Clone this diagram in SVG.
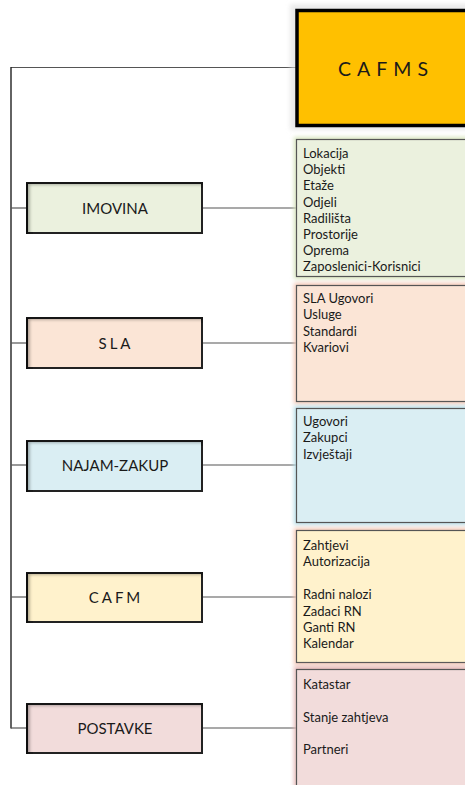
<svg xmlns="http://www.w3.org/2000/svg" width="465" height="785" viewBox="0 0 465 785">
  <style>
    .node { stroke: #222; stroke-width: 2; }
    .nlabel { font-family: Lato, "Open Sans", "Liberation Sans", sans-serif; font-size: 15px; fill: #1a1a1a; text-anchor: middle; }
    .spaced { letter-spacing: 3px; }
    .detail { stroke: #555; stroke-width: 1.2; }
    .dtext { font-family: Lato, "Open Sans", "Liberation Sans", sans-serif; font-size: 13px; fill: #1a1a1a; }
    .conn { stroke: #555; stroke-width: 1.2; fill: none; }
  </style>
  <defs>
    <filter id="inner" x="-5%" y="-10%" width="110%" height="120%">
      <feFlood flood-color="#000" flood-opacity="0.55"/>
      <feComposite in2="SourceAlpha" operator="out"/>
      <feOffset dx="4" dy="3"/>
      <feGaussianBlur stdDeviation="1.5"/>
      <feComposite in2="SourceAlpha" operator="in" result="sh"/>
      <feMerge><feMergeNode in="SourceGraphic"/><feMergeNode in="sh"/></feMerge>
    </filter>
    <filter id="halo" x="-10%" y="-10%" width="120%" height="120%">
      <feGaussianBlur stdDeviation="2"/>
    </filter>
  </defs>

  <!-- connectors -->
  <g id="connectors">
    <line class="conn" x1="11" y1="67.5" x2="296" y2="67.5" stroke="#888"/>
    <line x1="11" y1="67" x2="11" y2="728.5" stroke="#222" stroke-width="1.4"/>
    <line class="conn" x1="11" y1="208" x2="27" y2="208"/>
    <line class="conn" x1="202" y1="208" x2="296" y2="208"/>
    <line class="conn" x1="11" y1="343" x2="27" y2="343"/>
    <line class="conn" x1="202" y1="343" x2="296" y2="343"/>
    <line class="conn" x1="11" y1="465" x2="27" y2="465"/>
    <line class="conn" x1="202" y1="465" x2="296" y2="465"/>
    <line class="conn" x1="11" y1="597" x2="27" y2="597"/>
    <line class="conn" x1="202" y1="597" x2="296" y2="597"/>
    <line class="conn" x1="11" y1="728" x2="27" y2="728"/>
    <line class="conn" x1="202" y1="728" x2="296" y2="728"/>
  </g>

  <!-- root -->
  <g id="cafms">
    <rect x="290" y="4" width="190" height="126" fill="#ddd" filter="url(#halo)" opacity="0.6"/>
    <rect x="297" y="10.5" width="175" height="115" fill="#FFC000" stroke="#000" stroke-width="3.5"/>
    <text x="386" y="76" font-family="Lato, 'Open Sans', 'Liberation Sans', sans-serif" font-size="19.5" fill="#1a1a1a" text-anchor="middle" letter-spacing="6">CAFMS</text>
  </g>

  <!-- IMOVINA -->
  <g id="imovina">
    <rect class="node" x="27" y="183" width="175" height="50" fill="#EBF1DE" filter="url(#inner)"/>
    <text class="nlabel" x="115" y="213.5">IMOVINA</text>
  </g>
  <g id="imovina-detail">
    <rect x="294" y="137" width="180" height="142" fill="#D7E4BD" filter="url(#halo)"/>
    <rect class="detail" x="296.5" y="139.5" width="175" height="137" fill="#EBF1DE"/>
    <text class="dtext" x="303" y="157.5">Lokacija</text>
    <text class="dtext" x="303" y="173.5">Objekti</text>
    <text class="dtext" x="303" y="190">Etaže</text>
    <text class="dtext" x="303" y="206.5">Odjeli</text>
    <text class="dtext" x="303" y="222.5">Radilišta</text>
    <text class="dtext" x="303" y="238.5">Prostorije</text>
    <text class="dtext" x="303" y="255">Oprema</text>
    <text class="dtext" x="303" y="271">Zaposlenici-Korisnici</text>
  </g>

  <!-- SLA -->
  <g id="sla">
    <rect class="node" x="27" y="318" width="175" height="50" fill="#FBE5D6" filter="url(#inner)"/>
    <text class="nlabel spaced" x="116" y="348.5">SLA</text>
  </g>
  <g id="sla-detail">
    <rect x="294" y="283" width="180" height="121" fill="#F4C7B4" filter="url(#halo)"/>
    <rect class="detail" x="296.5" y="285.5" width="175" height="116" fill="#FBE5D6"/>
    <text class="dtext" x="303" y="302.5">SLA Ugovori</text>
    <text class="dtext" x="303" y="319">Usluge</text>
    <text class="dtext" x="303" y="335.5">Standardi</text>
    <text class="dtext" x="303" y="352">Kvariovi</text>
  </g>

  <!-- NAJAM-ZAKUP -->
  <g id="najam-zakup">
    <rect class="node" x="27" y="441" width="175" height="50" fill="#DAEEF3" filter="url(#inner)"/>
    <text class="nlabel" x="115" y="470.5">NAJAM-ZAKUP</text>
  </g>
  <g id="najam-detail">
    <rect x="294" y="406" width="180" height="119" fill="#B7DEE8" filter="url(#halo)"/>
    <rect class="detail" x="296.5" y="408.5" width="175" height="114" fill="#DAEEF3"/>
    <text class="dtext" x="303" y="425.5">Ugovori</text>
    <text class="dtext" x="303" y="442">Zakupci</text>
    <text class="dtext" x="303" y="458.5">Izvještaji</text>
  </g>

  <!-- CAFM -->
  <g id="cafm">
    <rect class="node" x="27" y="573" width="175" height="49" fill="#FFF2CC" filter="url(#inner)"/>
    <text class="nlabel spaced" x="116" y="602.5">CAFM</text>
  </g>
  <g id="cafm-detail">
    <rect x="294" y="528" width="180" height="137" fill="#F4C7B4" filter="url(#halo)"/>
    <rect class="detail" x="296.5" y="530.5" width="175" height="132" fill="#FFF2CC"/>
    <text class="dtext" x="303" y="549.5">Zahtjevi</text>
    <text class="dtext" x="303" y="566">Autorizacija</text>
    <text class="dtext" x="303" y="599">Radni nalozi</text>
    <text class="dtext" x="303" y="615.5">Zadaci RN</text>
    <text class="dtext" x="303" y="632">Ganti RN</text>
    <text class="dtext" x="303" y="648">Kalendar</text>
  </g>

  <!-- POSTAVKE -->
  <g id="postavke">
    <rect class="node" x="27" y="704" width="175" height="49" fill="#F2DCDB" filter="url(#inner)"/>
    <text class="nlabel" x="115" y="733.5">POSTAVKE</text>
  </g>
  <g id="postavke-detail">
    <rect x="294" y="666" width="180" height="130" fill="#E6B9B8" filter="url(#halo)"/>
    <rect class="detail" x="296.5" y="669.5" width="175" height="125" fill="#F2DCDB"/>
    <text class="dtext" x="303" y="688.5">Katastar</text>
    <text class="dtext" x="303" y="721.5">Stanje zahtjeva</text>
    <text class="dtext" x="303" y="753.5">Partneri</text>
  </g>
</svg>
